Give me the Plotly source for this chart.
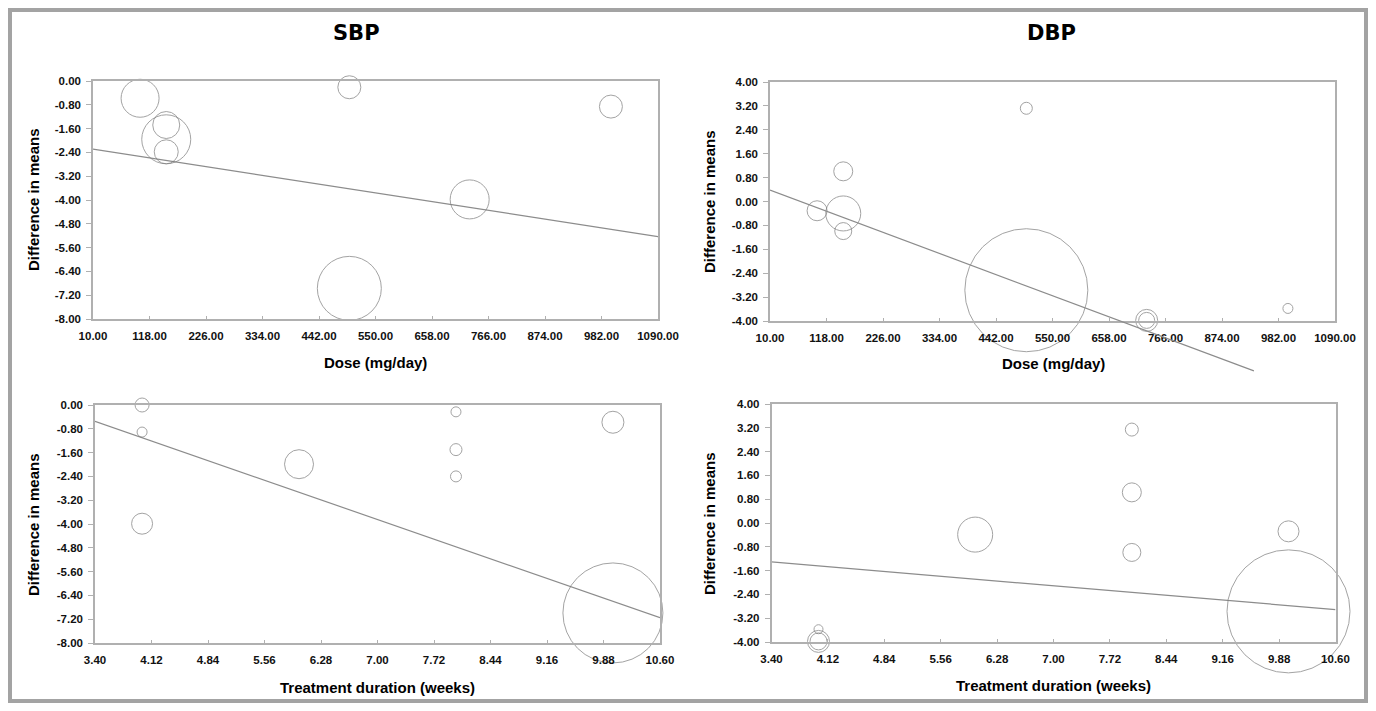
import plotly.graph_objects as go

# ---------------- data ----------------
sbp_dose = [100, 150, 150, 150, 500, 500, 730, 730, 1000]
sbp_dose_diff = [-0.58, -1.48, -1.96, -2.38, -0.21, -6.97, 0.03, -3.98, -0.86]
sbp_dose_weight = [38, 27, 49, 24, 23, 64, 30, 39, 23]
sbp_dose_fit_x = [10, 1090]
sbp_dose_fit_y = [-2.29, -5.23]

dbp_dose = [100, 150, 150, 150, 500, 500, 730, 730, 1000]
dbp_dose_diff = [-0.31, 1.01, -0.40, -0.99, 3.12, -2.97, -3.98, -3.98, -3.58]
dbp_dose_weight = [20, 19, 35, 17, 12, 123, 22, 16, 10]
dbp_dose_fit_x = [10, 935]
dbp_dose_fit_y = [0.38, -5.67]

sbp_dur = [4, 4, 4, 6, 8, 8, 8, 10, 10]
sbp_dur_diff = [0.0, -0.91, -3.99, -1.99, -0.23, -1.50, -2.40, -0.58, -6.99]
sbp_dur_weight = [14, 10, 21, 29, 10, 12, 11, 22, 100]
sbp_dur_fit_x = [3.4, 10.6]
sbp_dur_fit_y = [-0.55, -7.15]

dbp_dur = [4, 4, 4, 6, 8, 8, 8, 10, 10]
dbp_dur_diff = [-3.57, -3.98, -3.98, -0.39, 3.14, 1.03, -0.99, -0.28, -2.97]
dbp_dur_weight = [9, 22, 17, 35, 13, 19, 18, 21, 123]
dbp_dur_fit_x = [3.4, 10.6]
dbp_dur_fit_y = [-1.31, -2.91]

dose_ticks = [10 + 108 * i for i in range(11)]
dur_ticks = [round(3.4 + 0.72 * i, 2) for i in range(11)]
sbp_ticks = [round(-0.8 * i, 2) + 0.0 for i in range(11)]
dbp_ticks = [round(4 - 0.8 * i, 2) + 0.0 for i in range(11)]

# ---------------- layout helpers ----------------
# The page body keeps its default 8px margin, so the figure is 16px smaller
# than the 1376x711 window; positions below are given in window pixels.
PAGE_OFF = 8
W, H = 1360, 695
def fx(p):
    return (p - PAGE_OFF) / W
def fy(p):
    return 1 - (p - PAGE_OFF) / H

def fmt(t):
    s = "%.2f" % t
    return "0.00" if s == "-0.00" else s

FONT = "Liberation Sans, Arial, sans-serif"
TITLE_FONT = "DejaVu Sans, Liberation Sans, sans-serif"
CIRCLE = "#7d7d7d"
LINE = "#8c8c8c"
AXIS = "#b0b0b0"

fig = go.Figure()

def bubbles(x, y, s, xa, ya):
    fig.add_trace(go.Scatter(
        x=x, y=y, mode="markers", xaxis=xa, yaxis=ya,
        marker=dict(size=s, sizemode="diameter", color="rgba(0,0,0,0)",
                    line=dict(color=CIRCLE, width=1)),
        cliponaxis=False, showlegend=False, hoverinfo="x+y"))

def fit(x, y, xa, ya):
    fig.add_trace(go.Scatter(
        x=x, y=y, mode="lines", xaxis=xa, yaxis=ya,
        line=dict(color=LINE, width=1.2), showlegend=False, hoverinfo="skip"))

fit(sbp_dose_fit_x, sbp_dose_fit_y, "x", "y")
bubbles(sbp_dose, sbp_dose_diff, sbp_dose_weight, "x", "y")
bubbles(dbp_dose, dbp_dose_diff, dbp_dose_weight, "x2", "y2")
fit(sbp_dur_fit_x, sbp_dur_fit_y, "x3", "y3")
bubbles(sbp_dur, sbp_dur_diff, sbp_dur_weight, "x3", "y3")
fit(dbp_dur_fit_x, dbp_dur_fit_y, "x4", "y4")
bubbles(dbp_dur, dbp_dur_diff, dbp_dur_weight, "x4", "y4")
# DBP dose regression line runs past the bottom of its panel: draw it on an
# invisible overlay subplot that shares the same scale but extends lower.
fit(dbp_dose_fit_x, dbp_dose_fit_y, "x5", "y5")

# panel pixel boxes: (left, right, top, bottom)
TL = (93, 658, 81, 319)
TR = (770, 1335, 82, 321)
BL = (95, 660, 405, 643)
BR = (771.5, 1335.5, 404, 642)

TICKFONT = dict(family=FONT, size=11.5, color="#111", weight="bold")

def xax(box, ticks, rng):
    return dict(domain=[fx(box[0]), fx(box[1])], range=rng, tickvals=ticks,
                ticktext=[fmt(t) for t in ticks],
                showgrid=False, zeroline=False, showline=True, linecolor=AXIS,
                linewidth=1.5, mirror=True, ticks="inside", ticklen=3,
                tickcolor=AXIS, tickfont=TICKFONT, ticklabelstandoff=5,
                fixedrange=True, automargin=False)

def yax(box, ticks, rng):
    return dict(domain=[fy(box[3]), fy(box[2])], range=rng, tickvals=ticks,
                ticktext=[fmt(t) for t in ticks],
                showgrid=False, zeroline=False, showline=True, linecolor=AXIS,
                linewidth=1.5, mirror=True, ticks="outside", ticklen=5,
                tickcolor=AXIS, tickfont=TICKFONT, ticklabelstandoff=3,
                fixedrange=True, automargin=False)

ext_bottom = 400
ext_low = -4 - (ext_bottom - TR[3]) * 8 / (TR[3] - TR[2])

layout = dict(
    width=W, height=H,
    margin=dict(l=0, r=0, t=0, b=0, pad=0, autoexpand=False),
    paper_bgcolor="white", plot_bgcolor="rgba(0,0,0,0)",
    xaxis=dict(xax(TL, dose_ticks, [10, 1090]), anchor="y"),
    yaxis=dict(yax(TL, sbp_ticks, [-8, 0]), anchor="x"),
    xaxis2=dict(xax(TR, dose_ticks, [10, 1090]), anchor="y2"),
    yaxis2=dict(yax(TR, dbp_ticks, [-4, 4]), anchor="x2"),
    xaxis3=dict(xax(BL, dur_ticks, [3.4, 10.6]), anchor="y3"),
    yaxis3=dict(yax(BL, sbp_ticks, [-8, 0]), anchor="x3"),
    xaxis4=dict(xax(BR, dur_ticks, [3.4, 10.6]), anchor="y4"),
    yaxis4=dict(yax(BR, dbp_ticks, [-4, 4]), anchor="x4"),
    xaxis5=dict(domain=[fx(TR[0]), fx(TR[1])], range=[10, 1090], visible=False,
                anchor="y5", fixedrange=True, automargin=False),
    yaxis5=dict(domain=[fy(ext_bottom), fy(TR[2])], range=[ext_low, 4], visible=False,
                anchor="x5", fixedrange=True, automargin=False),
    showlegend=False,
)
fig.update_layout(**layout)

def label(text, x, y, size, angle=0, family=FONT):
    fig.add_annotation(text="<b>%s</b>" % text, x=fx(x), y=fy(y), xref="paper", yref="paper",
                       showarrow=False, textangle=angle, xanchor="center", yanchor="middle",
                       font=dict(family=family, size=size, color="#000"))

label("SBP", 356, 33, 21, family=TITLE_FONT)
label("DBP", 1051, 33, 21, family=TITLE_FONT)
label("Difference in means", 33, 200, 15, -90)
label("Difference in means", 709, 201, 15, -90)
label("Difference in means", 33, 525, 15, -90)
label("Difference in means", 709, 523, 15, -90)
label("Dose (mg/day)", 375, 362, 15)
label("Dose (mg/day)", 1053, 364, 15)
label("Treatment duration (weeks)", 378, 687, 15)
label("Treatment duration (weeks)", 1053, 685, 15)

# outer grey frame (right/bottom edges sit at the figure boundary)
fig.add_shape(type="rect", xref="paper", yref="paper",
              x0=fx(10), x1=fx(1366), y0=fy(701), y1=fy(10),
              line=dict(color="#a3a3a3", width=4), fillcolor="rgba(0,0,0,0)", layer="above")

fig.write_html("out.html", config={"displayModeBar": False})
